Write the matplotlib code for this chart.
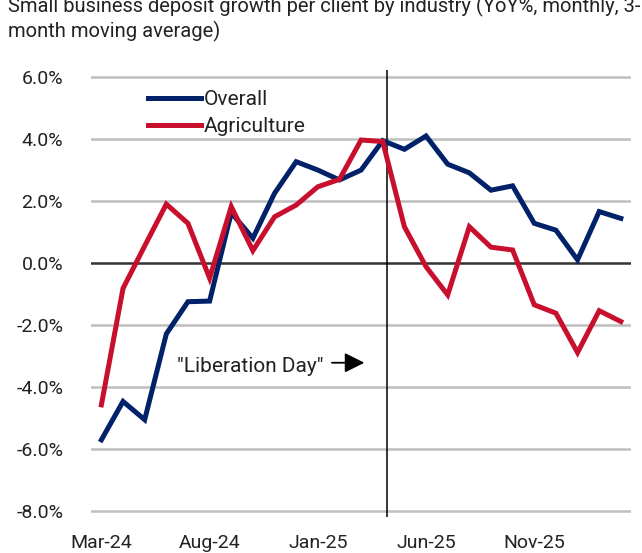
import matplotlib
matplotlib.use("Agg")
import matplotlib.pyplot as plt
from matplotlib import font_manager

names = {f.name for f in font_manager.fontManager.ttflist}
fam = "Liberation Sans Narrow" if "Liberation Sans Narrow" in names else "Roboto"
plt.rcParams['font.family'] = [fam, 'DejaVu Sans']

months = ["Mar-24", "Apr-24", "May-24", "Jun-24", "Jul-24", "Aug-24", "Sep-24", "Oct-24",
          "Nov-24", "Dec-24", "Jan-25", "Feb-25", "Mar-25", "Apr-25", "May-25", "Jun-25",
          "Jul-25", "Aug-25", "Sep-25", "Oct-25", "Nov-25", "Dec-25", "Jan-26", "Feb-26", "Mar-26"]
overall = [-5.71, -4.47, -5.06, -2.29, -1.25, -1.23, 1.62, 0.80, 2.25, 3.27, 3.00, 2.68,
           3.00, 3.95, 3.67, 4.10, 3.19, 2.91, 2.35, 2.49, 1.28, 1.06, 0.10, 1.66, 1.44]
agriculture = [-4.58, -0.82, 0.55, 1.90, 1.28, -0.49, 1.82, 0.40, 1.49, 1.87, 2.46, 2.70,
               3.97, 3.92, 1.17, -0.12, -1.03, 1.17, 0.51, 0.42, -1.35, -1.62, -2.89, -1.54, -1.89]
tick_labels = ["Mar-24", "Aug-24", "Jan-25", "Jun-25", "Nov-25"]
yticks = [-8, -6, -4, -2, 0, 2, 4, 6]
title = "Small business deposit growth per client by industry (YoY%, monthly, 3-\nmonth moving average)"

NAVY = "#012169"
RED = "#C8102E"

fig = plt.figure(figsize=(6.42, 5.53), dpi=100)
ax = fig.add_axes([91/642, 1-517/553, 540/642, 447/553])

x = list(range(len(months)))
for y in yticks:
    if y == 0:
        ax.axhline(y, color="#333333", lw=1.8, zorder=1)
    else:
        ax.axhline(y, color="#BFBFBF", lw=1.8, zorder=0)

ax.plot(x, overall, color=NAVY, lw=3.6, label="Overall", zorder=3, solid_joinstyle='miter')
ax.plot(x, agriculture, color=RED, lw=3.6, label="Agriculture", zorder=3, solid_joinstyle='miter')

ax.axvline(13.2, color="black", lw=1.1, zorder=2)

ax.annotate("", xy=(12.15, -3.22), xytext=(10.65, -3.22),
            arrowprops=dict(arrowstyle='-|>,head_length=1.0,head_width=0.5', color='black',
                            lw=1.3, mutation_scale=12, shrinkA=0, shrinkB=0))
ax.text(3.5, -3.35, '"Liberation Day"', fontsize=15, va='center', ha='left', color='#222222')

ax.set_xlim(-0.48, 24.47)
ax.set_ylim(-8.2, 6.23)
tick_pos = [months.index(t) for t in tick_labels]
ax.set_xticks(tick_pos)
ax.set_xticklabels(tick_labels)
ax.set_yticks(yticks)
ax.set_yticklabels([f"{v:.1f}%" for v in yticks])
ax.tick_params(length=0, labelsize=14, colors='#222222')
ax.tick_params(axis='y', pad=20)
ax.tick_params(axis='x', pad=12)
for s in ax.spines.values():
    s.set_visible(False)

leg = ax.legend(loc='upper left', bbox_to_anchor=(0.09, 0.974), frameon=False, fontsize=15,
                handlelength=2.55, handletextpad=0.15, labelspacing=0.4, borderaxespad=0)
for t in leg.get_texts():
    t.set_color('#222222')

fig.text(8/642, 1 + 4/553, title, fontsize=14.5, va='top', ha='left', color='#222222',
         linespacing=1.25)

fig.savefig("out.png", dpi=100)
